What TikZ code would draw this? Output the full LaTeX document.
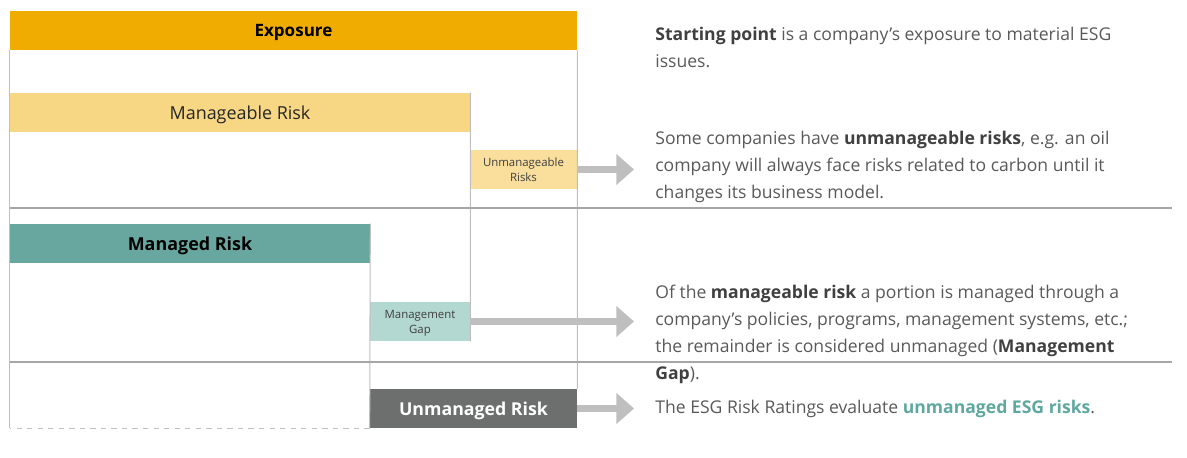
\documentclass[tikz,border=0pt]{standalone}
\usepackage{fontspec}
\setmainfont{Open Sans}
\usetikzlibrary{arrows.meta}
\definecolor{expo}{HTML}{F0AC00}
\definecolor{mngbl}{HTML}{F7D684}
\definecolor{unmng}{HTML}{F9DE9C}
\definecolor{mngd}{HTML}{68A7A0}
\definecolor{gapc}{HTML}{B3D7D1}
\definecolor{unmgd}{HTML}{6D6E6E}
\definecolor{frame}{HTML}{BFBFBF}
\definecolor{sepc}{HTML}{A6A6A6}
\definecolor{txt}{HTML}{595959}
\definecolor{txtb}{HTML}{404040}
\definecolor{hilite}{HTML}{5FA89F}
\tikzset{
  bar/.style={inner sep=0pt, minimum height=0.78cm, text depth=0pt},
  frameline/.style={draw=frame, line width=0.6pt},
  sepline/.style={draw=sepc, line width=1.1pt},
  garrow/.style={draw=frame, line width=4.5pt, -{Triangle[width=17pt,length=10pt]}},
  note/.style={anchor=west, inner sep=0pt, align=left, text=txt, font=\fontsize{10}{15.3}\selectfont},
  small/.style={align=center, font=\fontsize{6.5}{8.6}\selectfont, text=txtb}
}
\newcommand{\bt}[1]{{\bfseries\color{txtb}#1}}
\begin{document}
\begin{tikzpicture}[x=0.02cm, y=-0.02cm]
 \useasboundingbox (0,0) rectangle (1187,457);
 % boxes
 \node[bar, fill=expo, minimum width=11.34cm, font=\fontsize{9.7}{11}\selectfont\bfseries] (expo) at (293.5,30.5) {Exposure};
 \node[bar, fill=mngbl, minimum width=9.2cm, font=\fontsize{10.2}{11}\selectfont, text=black!85] (mngbl) at (240,112.5) {Manageable Risk};
 \node[bar, fill=unmng, minimum width=2.14cm, small] (unmng) at (523.5,169.5) {Unmanageable\\Risks};
 \node[bar, fill=mngd, minimum width=7.2cm, font=\fontsize{10.2}{11}\selectfont\bfseries] (mngd) at (190,243.5) {Managed Risk};
 \node[bar, fill=gapc, minimum width=2cm, small] (gap) at (420,321.5) {Management\\Gap};
 \node[bar, fill=unmgd, minimum width=4.14cm, font=\fontsize{10.1}{11}\selectfont\bfseries, text=white] (unmgd) at (473.5,408.5) {Unmanaged Risk};
 % frame lines
 \draw[frameline] (expo.south west) -- (unmgd.south -| expo.west);
 \draw[frameline] (expo.south east) -- (unmgd.north east);
 \draw[frameline] (mngbl.north east) -- (gap.south east);
 \draw[frameline] (mngd.north east) -- (unmgd.south west);
 \draw[frameline, dashed] (unmgd.south west) -- (unmgd.south -| expo.west);
 % separators
 \coordinate (sepA) at (10,208); \coordinate (sepAe) at (1172,208);
 \coordinate (sepB) at (10,362); \coordinate (sepBe) at (1172,362);
 \draw[sepline] (sepA) -- (sepAe);
 \draw[sepline] (sepB) -- (sepBe);
 % arrows
 \coordinate (tip) at (634,0);
 \draw[garrow] (unmng.east) -- (unmng.east -| tip);
 \draw[garrow] (gap.east) -- (gap.east -| tip);
 \draw[garrow] (unmgd.east) -- (unmgd.east -| tip);
 % notes
 \node[note] (txtA) at (655,47.5) {\bt{Starting point} is a company’s exposure to material ESG\\issues.};
 \node[note] (txtB) at (655,167) {Some companies have \bt{unmanageable risks}, e.g. an oil\\company will always face risks related to carbon until it\\changes its business model.};
 \node[note] (txtC) at (655,334.5) {Of the \bt{manageable risk} a portion is managed through a\\company’s policies, programs, management systems, etc.;\\the remainder is considered unmanaged (\bt{Management}\\\bt{Gap}).};
 \node[note] (txtD) at (655,409) {The ESG Risk Ratings evaluate {\bfseries\color{hilite}unmanaged ESG risks}.};
\end{tikzpicture}
\end{document}
